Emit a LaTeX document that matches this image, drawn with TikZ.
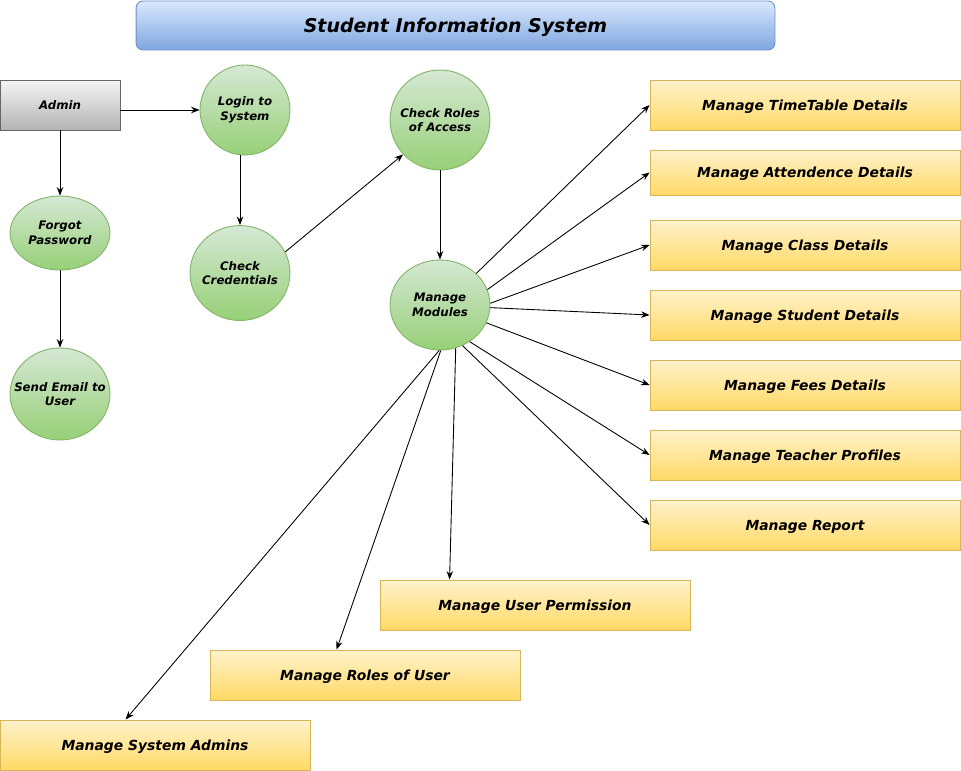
\documentclass[tikz,border=0pt]{standalone}
\usepackage{fontspec}
\setmainfont{DejaVu Sans}
\usepackage{xcolor}
\usetikzlibrary{positioning,arrows.meta,shapes.geometric}

\definecolor{grnTop}{HTML}{D5E8D4}
\definecolor{grnBot}{HTML}{97D077}
\definecolor{grnLine}{HTML}{82B366}
\definecolor{ylwTop}{HTML}{FFF2CC}
\definecolor{ylwBot}{HTML}{FFD966}
\definecolor{ylwLine}{HTML}{D6B656}
\definecolor{bluTop}{HTML}{DAE8FC}
\definecolor{bluBot}{HTML}{7EA6E0}
\definecolor{bluLine}{HTML}{6C8EBF}
\definecolor{gryTop}{HTML}{F5F5F5}
\definecolor{gryBot}{HTML}{B3B3B3}
\definecolor{gryLine}{HTML}{666666}

\begin{document}
\begin{tikzpicture}[x=0.02cm, y=-0.02cm, >={Stealth[length=0.17cm,width=0.13cm]},
    every node/.style={font=\bfseries\itshape\fontsize{6.7}{8.3}\selectfont, align=center, inner sep=0pt},
    proc/.style={ellipse, draw=grnLine, top color=grnTop, bottom color=grnBot, line width=0.5pt,
        inner xsep=-14pt, inner ysep=-8pt},
    task/.style={rectangle, draw=ylwLine, top color=ylwTop, bottom color=ylwBot, line width=0.5pt,
        minimum width=6.2cm, minimum height=1cm, text depth=0pt,
        font=\bfseries\itshape\fontsize{7.9}{9}\selectfont},
    actor/.style={rectangle, draw=gryLine, top color=gryTop, bottom color=gryBot, line width=0.5pt,
        minimum width=2.4cm, minimum height=1cm, text depth=0pt},
    head/.style={rectangle, rounded corners=4pt, draw=bluLine, top color=bluTop, bottom color=bluBot,
        line width=0.5pt, minimum width=12.78cm, minimum height=0.98cm, text depth=0pt,
        font=\bfseries\itshape\fontsize{10.8}{12}\selectfont}]

    \useasboundingbox (0,0) rectangle (961,771);

    \node[head] (title) at (455.5,25.5) {Student Information System};

    \node[actor] (admin) at (60,105) {Admin};
    \node[proc, minimum width=1.8cm, minimum height=1.8cm] (login) at (245,110) {Login to\\System};
    \node[proc, minimum width=2cm, minimum height=1.48cm] (forgot) at (60,233) {Forgot\\Password};
    \node[proc, minimum width=2cm, minimum height=1.84cm] (email) at (60,394) {Send Email to\\User};
    \node[proc, minimum width=2cm, minimum height=1.9cm] (cred) at (240,273) {Check\\Credentials};
    \node[proc, minimum width=2cm, minimum height=2cm] (roles) at (440,120) {Check Roles\\of Access};
    \node[proc, minimum width=2cm, minimum height=1.8cm] (modules) at (440,305) {Manage\\Modules};

    \node[task] (tt) at (805,105) {Manage TimeTable Details};
    \node[task, minimum height=0.9cm] (att) at (805,172.5) {Manage Attendence Details};
    \node[task] (cls) at (805,245) {Manage Class Details};
    \node[task] (stud) at (805,315) {Manage Student Details};
    \node[task] (fees) at (805,385) {Manage Fees Details};
    \node[task] (teach) at (805,455) {Manage Teacher Profiles};
    \node[task] (rep) at (805,525) {Manage Report};
    \node[task] (perm) at (535,605) {Manage User Permission};
    \node[task] (ruser) at (365,675) {Manage Roles of User};
    \node[task] (sadmin) at (155,745) {Manage System Admins};

    \path[->, line width=0.5pt]
        (admin.east |- login.west) edge (login.west)
        (admin.south) edge (forgot.north)
        (forgot.south) edge (email.north)
        (login.south -| cred.north) edge (cred.north)
        (cred.25) edge (roles.223)
        (roles.south) edge (modules.north)
        (modules.41) edge (tt.west)
        (modules.18) edge (att.west)
        (modules.2) edge (cls.west)
        (modules.-3) edge (stud.west)
        (modules.-21) edge (fees.west)
        (modules.-51) edge (teach.west)
        (modules.-61) edge (rep.west)
        (modules.-70) edge ([xshift=1.4cm]perm.north west)
        (modules.-89) edge ([xshift=2.54cm]ruser.north west)
        (modules.-91) edge ([xshift=2.52cm]sadmin.north west);

\end{tikzpicture}
\end{document}
